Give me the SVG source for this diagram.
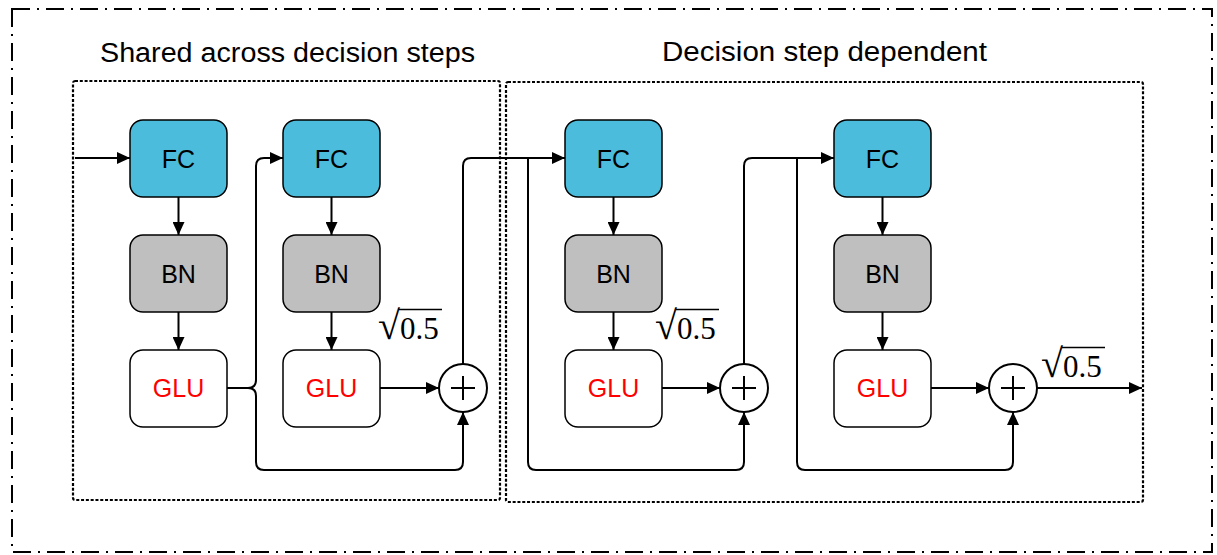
<svg xmlns="http://www.w3.org/2000/svg" width="1217" height="555" viewBox="0 0 1217 555">
  <style>
    .frame { fill: none; stroke: #000; stroke-width: 2; stroke-dasharray: 18 7 2 7; }
    .group { fill: none; stroke: #000; stroke-width: 2.2; stroke-dasharray: 3 1.8; }
    .title { font-family: "Liberation Sans", Arial, sans-serif; font-size: 27px; fill: #000; }
    .box { stroke: #000; stroke-width: 1.5; }
    .fc { fill: #4bbcdb; }
    .bn { fill: #bfbfbf; }
    .glu { fill: #fff; }
    .lbl { font-family: "Liberation Sans", Arial, sans-serif; font-size: 25px; text-anchor: middle; fill: #000; }
    .red { fill: #ff0000; }
    .wire { fill: none; stroke: #000; stroke-width: 2; }
    .arrow { marker-end: url(#head); }
    .sum { fill: #fff; stroke: #000; stroke-width: 2; }
    .scale { font-family: "Liberation Serif", "Times New Roman", serif; font-size: 31px; fill: #000; }
    .root { font-size: 40px; }
    .bar { stroke: #000; stroke-width: 1.3; }
  </style>
  <defs>
    <marker id="head" markerUnits="userSpaceOnUse" markerWidth="14" markerHeight="12" refX="13" refY="6" orient="auto">
      <path d="M0,0 L13,6 L0,12 Z" fill="#000"/>
    </marker>
  </defs>

  <rect width="1217" height="555" fill="#fff"/>

  <!-- outer frame -->
  <rect class="frame" x="12" y="9" width="1200" height="543"/>

  <!-- grouping boxes -->
  <g id="shared-block">
    <rect class="group" x="73" y="81" width="427" height="419" rx="2"/>
    <text class="title" x="100" y="62" textLength="375" lengthAdjust="spacingAndGlyphs">Shared across decision steps</text>
  </g>
  <g id="dependent-block">
    <rect class="group" x="506" y="82" width="637" height="420" rx="2"/>
    <text class="title" x="662" y="61" textLength="325" lengthAdjust="spacingAndGlyphs">Decision step dependent</text>
  </g>

  <!-- column 1 -->
  <g id="fc1"><rect class="box fc" x="130" y="120" width="97" height="77" rx="13"/><text class="lbl" x="178.5" y="168">FC</text></g>
  <g id="bn1"><rect class="box bn" x="130" y="235" width="97" height="77" rx="13"/><text class="lbl" x="178.5" y="283">BN</text></g>
  <g id="glu1"><rect class="box glu" x="130" y="350" width="97" height="77" rx="13"/><text class="lbl red" x="178.5" y="397">GLU</text></g>

  <!-- column 2 -->
  <g id="fc2"><rect class="box fc" x="283" y="120" width="97" height="77" rx="13"/><text class="lbl" x="331.5" y="168">FC</text></g>
  <g id="bn2"><rect class="box bn" x="283" y="235" width="97" height="77" rx="13"/><text class="lbl" x="331.5" y="283">BN</text></g>
  <g id="glu2"><rect class="box glu" x="283" y="350" width="97" height="77" rx="13"/><text class="lbl red" x="331.5" y="397">GLU</text></g>

  <!-- column 3 -->
  <g id="fc3"><rect class="box fc" x="565" y="120" width="97" height="77" rx="13"/><text class="lbl" x="613.5" y="168">FC</text></g>
  <g id="bn3"><rect class="box bn" x="565" y="235" width="97" height="77" rx="13"/><text class="lbl" x="613.5" y="283">BN</text></g>
  <g id="glu3"><rect class="box glu" x="565" y="350" width="97" height="77" rx="13"/><text class="lbl red" x="613.5" y="397">GLU</text></g>

  <!-- column 4 -->
  <g id="fc4"><rect class="box fc" x="834" y="120" width="97" height="77" rx="13"/><text class="lbl" x="882.5" y="168">FC</text></g>
  <g id="bn4"><rect class="box bn" x="834" y="235" width="97" height="77" rx="13"/><text class="lbl" x="882.5" y="283">BN</text></g>
  <g id="glu4"><rect class="box glu" x="834" y="350" width="97" height="77" rx="13"/><text class="lbl red" x="882.5" y="397">GLU</text></g>

  <!-- connectors -->
  <g id="connectors">
    <path class="wire arrow" d="M75,158 H130"/>
    <path class="wire arrow" d="M178.5,197 V235"/>
    <path class="wire arrow" d="M178.5,312 V350"/>
    <path class="wire arrow" d="M331.5,197 V235"/>
    <path class="wire arrow" d="M331.5,312 V350"/>
    <path class="wire arrow" d="M613.5,197 V235"/>
    <path class="wire arrow" d="M613.5,312 V350"/>
    <path class="wire arrow" d="M882.5,197 V235"/>
    <path class="wire arrow" d="M882.5,312 V350"/>

    <!-- block 1: split after first GLU -->
    <path class="wire arrow" d="M227,388 H248 Q256,388 256,380 V166 Q256,158 264,158 H283"/>
    <path class="wire arrow" d="M248,388 Q256,388 256,396 V462 Q256,470 264,470 H455 Q463,470 463,462 V412"/>
    <path class="wire arrow" d="M380,388 H439"/>

    <!-- sum 1 to block 3 -->
    <path class="wire arrow" d="M463,364 V166 Q463,158 471,158 H565"/>
    <path class="wire arrow" d="M528,158 V462 Q528,470 536,470 H736 Q744,470 744,462 V412"/>
    <path class="wire arrow" d="M662,388 H720"/>

    <!-- sum 2 to block 4 -->
    <path class="wire arrow" d="M744,364 V166 Q744,158 752,158 H834"/>
    <path class="wire arrow" d="M797,158 V462 Q797,470 805,470 H1005 Q1013,470 1013,462 V412"/>
    <path class="wire arrow" d="M931,388 H989"/>

    <!-- output -->
    <path class="wire arrow" d="M1037,388 H1142"/>
  </g>

  <!-- adders -->
  <g id="sum1">
    <circle class="sum" cx="463" cy="388" r="24"/>
    <path class="wire" d="M451,388 H475 M463,376 V400"/>
  </g>
  <g id="sum2">
    <circle class="sum" cx="744" cy="388" r="24"/>
    <path class="wire" d="M732,388 H756 M744,376 V400"/>
  </g>
  <g id="sum3">
    <circle class="sum" cx="1013" cy="388" r="24"/>
    <path class="wire" d="M1001,388 H1025 M1013,376 V400"/>
  </g>

  <!-- scaling labels -->
  <g id="scale1">
    <text class="scale" x="378" y="339"><tspan class="root">√</tspan>0.5</text>
    <path class="bar" d="M399,309.5 H442"/>
  </g>
  <g id="scale2">
    <text class="scale" x="655" y="339"><tspan class="root">√</tspan>0.5</text>
    <path class="bar" d="M676,309.5 H719"/>
  </g>
  <g id="scale3">
    <text class="scale" x="1041" y="377"><tspan class="root">√</tspan>0.5</text>
    <path class="bar" d="M1062,347.5 H1105"/>
  </g>
</svg>
